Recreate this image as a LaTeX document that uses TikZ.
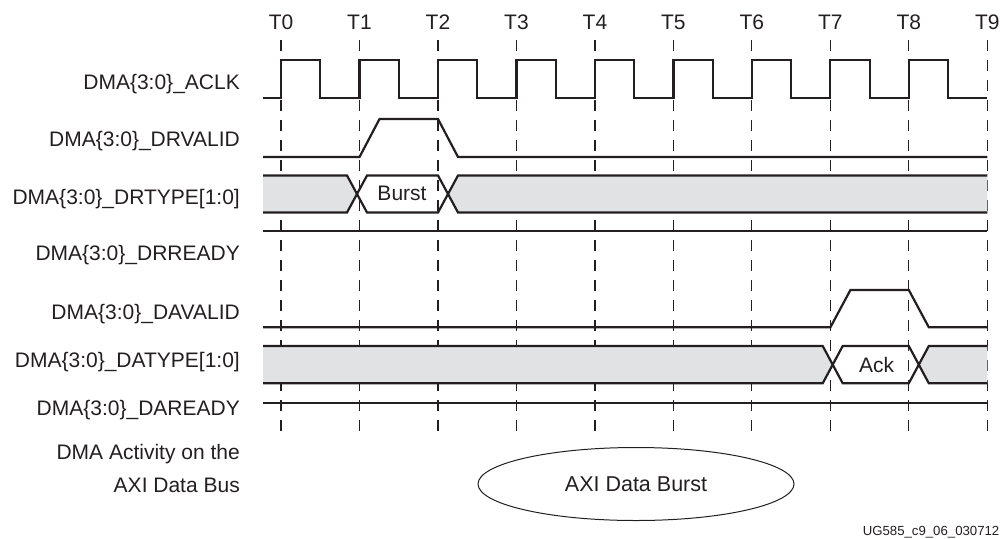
\documentclass[tikz,border=0pt]{standalone}
\usepackage{fontspec}
\setmainfont{Liberation Sans}
\usetikzlibrary{shapes.geometric}
\definecolor{ink}{HTML}{231F20}
\definecolor{busgray}{HTML}{E1E2E4}
\begin{document}
\begin{tikzpicture}[x=1pt,y=-1pt,
  font=\fontsize{21}{25}\selectfont,
  sig/.style={draw=ink, line width=2.2pt, line join=miter},
  gridline/.style={draw=ink, line width=1.2pt, dash pattern=on 11pt off 9pt},
  lbl/.style={anchor=base east, text=ink, inner sep=0pt},
  tlbl/.style={anchor=base, text=ink, inner sep=0pt},
  buslbl/.style={anchor=base, text=ink, inner sep=0pt}]
\useasboundingbox (0,0) rectangle (1000,538);
% time grid
\foreach \i in {0,...,9} {
  \coordinate (g\i) at ({281+78.48*\i},40);
  \coordinate (h\i) at ({281+78.48*\i},438);
  \draw[gridline] (g\i) -- (h\i);
  \node[tlbl] (t\i) at ({281+78.48*\i},29.5) {T\i};
}
% signal names
\node[lbl] (lclk) at (240,89) {DMA\{3:0\}\_ACLK};
\node[lbl] (ldrvalid) at (240,146) {DMA\{3:0\}\_DRVALID};
\node[lbl] (ldrtype) at (240,204) {DMA\{3:0\}\_DRTYPE[1:0]};
\node[lbl] (ldrready) at (240,260) {DMA\{3:0\}\_DRREADY};
\node[lbl] (ldavalid) at (240,319) {DMA\{3:0\}\_DAVALID};
\node[lbl] (ldatype) at (240,367) {DMA\{3:0\}\_DATYPE[1:0]};
\node[lbl] (ldaready) at (240,415) {DMA\{3:0\}\_DAREADY};
\node[lbl] (lact1) at (240,459) {DMA Activity on the};
\node[lbl] (lact2) at (240,492) {AXI Data Bus};
% clock
\draw[sig] (263,98) \foreach \i in {0,...,8} {
  -- ({281+78.48*\i},98) -- ({281+78.48*\i},60)
  -- ({281+78.48*\i+39.24},60) -- ({281+78.48*\i+39.24},98) } -- (987.3,98);
% DRVALID
\draw[sig] (263,157) -- (359.5,157) -- (379.5,119) -- (438,119) -- (458,157) -- (987.3,157);
% DRTYPE bus
\fill[busgray] (263,175.5) -- (347,175.5) -- (357,194) -- (347,212.5) -- (263,212.5) -- cycle;
\fill[busgray] (448,194) -- (458,175.5) -- (987.3,175.5) -- (987.3,212.5) -- (458,212.5) -- cycle;
\draw[sig] (263,175.5) -- (347,175.5) -- (367,212.5) -- (438,212.5) -- (458,175.5) -- (987.3,175.5);
\draw[sig] (263,212.5) -- (347,212.5) -- (367,175.5) -- (438,175.5) -- (458,212.5) -- (987.3,212.5);
\node[buslbl] (burstlbl) at (402,200.7) {Burst};
% DRREADY
\draw[sig] (263,231) -- (987.3,231);
% DAVALID
\draw[sig] (263,327.3) -- (830.4,327.3) -- (850.4,290) -- (908.8,290) -- (928.8,327.3) -- (987.3,327.3);
% DATYPE bus
\fill[busgray] (263,346) -- (822.7,346) -- (832.7,364.7) -- (822.7,383.3) -- (263,383.3) -- cycle;
\fill[busgray] (918.8,364.7) -- (928.8,346) -- (987.3,346) -- (987.3,383.3) -- (928.8,383.3) -- cycle;
\draw[sig] (263,346) -- (822.7,346) -- (842.7,383.3) -- (908.8,383.3) -- (928.8,346) -- (987.3,346);
\draw[sig] (263,383.3) -- (822.7,383.3) -- (842.7,346) -- (908.8,346) -- (928.8,383.3) -- (987.3,383.3);
\node[buslbl] (acklbl) at (876.7,372) {Ack};
% DAREADY
\draw[sig] (263,402.7) -- (987.3,402.7);
% activity ellipse
\node[draw=ink, line width=1pt, ellipse, minimum width=316pt, minimum height=73pt, inner sep=0pt, text=ink, font=\fontsize{21.5}{25}\selectfont] (axiburst) at (636,484) {AXI Data Burst};
% figure id
\node[anchor=base east, inner sep=0pt, text=ink, font=\fontsize{13.2}{13.2}\selectfont] (figid) at (999.5,535) {UG585\_c9\_06\_030712};
\end{tikzpicture}
\end{document}
